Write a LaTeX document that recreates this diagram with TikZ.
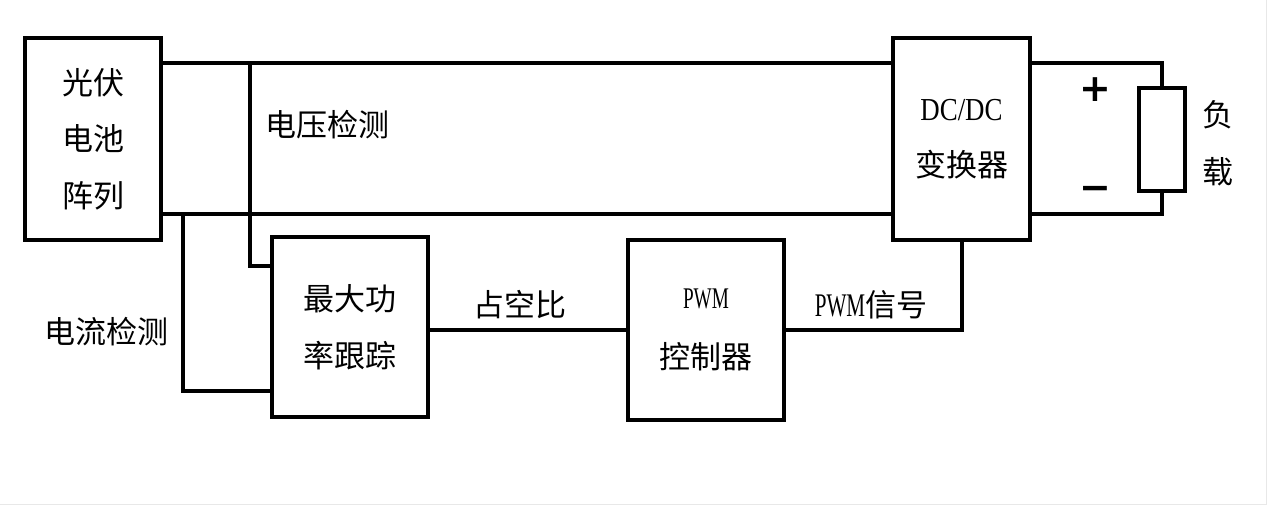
\documentclass[tikz,border=0pt]{standalone}
\usepackage{fontspec}
\setmainfont{Noto Sans CJK SC}
\newfontfamily\dcfont[FakeStretch=0.84]{Liberation Serif}
\newfontfamily\pwmfont[FakeStretch=0.64]{Liberation Serif}
\newfontfamily\signfont{DejaVu Sans}
\begin{document}
\begin{tikzpicture}[x=1pt,y=-1pt,
  box/.style={draw,line width=4pt,inner sep=0pt,align=center,font=\fontsize{31}{56.5}\selectfont},
  wire/.style={line width=4pt,line cap=rect},
  lbl/.style={inner sep=0pt,font=\fontsize{31}{37}\selectfont},
  sign/.style={inner sep=0pt,font=\fontsize{38}{40}\selectfont\signfont\bfseries}]
\useasboundingbox (0,0) rectangle (1267,505);
\fill[white] (0,0) rectangle (1267,505);
\draw[gray!18,line width=1pt] (0,504) -- (1266,504) -- (1266,0);
% blocks
\node[box,minimum width=136pt,minimum height=202pt] (pv) at (93,139) {光伏\\电池\\阵列};
\node[box,minimum width=137pt,minimum height=202pt] (dc) at (961.5,139) {{\fontsize{32}{56.5}\selectfont\dcfont DC/DC}\\变换器};
\node[box,minimum width=156pt,minimum height=180pt] (mppt) at (350,327) {最大功\\率跟踪};
\node[box,minimum width=156pt,minimum height=180pt] (pwm) at (706,330) {{\fontsize{30}{56.5}\selectfont\pwmfont PWM}\\[4pt]控制器};
\node[box,minimum width=46pt,minimum height=103pt] (load) at (1162,139.5) {};
% helper coordinates
\coordinate (yt) at (0,63);
\coordinate (yb) at (0,214);
\coordinate (vt) at (250,63);
\coordinate (vy) at (0,266);
\coordinate (ct) at (183,214);
\coordinate (cy) at (0,391);
% wires
\draw[wire] (pv.east |- yt) -- (dc.west |- yt);
\draw[wire] (pv.east |- yb) -- (dc.west |- yb);
\draw[wire] (vt) |- (mppt.west |- vy);
\draw[wire] (ct) |- (mppt.west |- cy);
\draw[wire] (mppt.east |- pwm.west) -- (pwm.west);
\draw[wire] (pwm.east) -| (dc.south);
\draw[wire] (dc.east |- yt) -| (load.north);
\draw[wire] (dc.east |- yb) -| (load.south);
% labels
\node[lbl] (lv) at (327,125) {电压检测};
\node[lbl] (li) at (107,332) {电流检测};
\node[lbl] (ld) at (520,305) {占空比};
\node[lbl] (ls) at (871,305) {{\fontsize{33}{37}\selectfont\pwmfont PWM}信号};
\node[sign] (plus) at (1095,90) {+};
\node[sign] (minus) at (1095,193) {−};
\node[lbl] (lf) at (1218,115) {负};
\node[lbl] (lz) at (1218,172) {载};
\end{tikzpicture}
\end{document}
